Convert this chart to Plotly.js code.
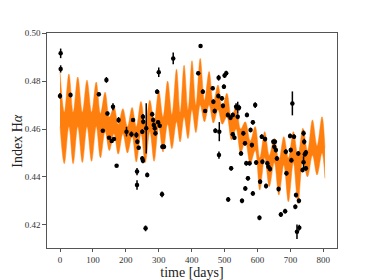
<!DOCTYPE html>
<html><head><meta charset="utf-8">
<script src="https://cdn.plot.ly/plotly-3.0.1.min.js"></script>
<style>html,body{margin:0;padding:0;background:#fff}#chart{width:374px;height:280px}</style>
</head><body><div id="chart"></div>
<script>
// GP band: times of envelope extrema, upper and lower envelope values
const bandT = [0,13,27,40,54,68,82,96,110,123,137,150,164,177,191,205,219,232,246,259,273,286,300,313,327,340,354,365,377,389,401,413,426,439,453,466,480,493,507,521,535,549,563,578,593,607,622,636,651,665,680,694,709,723,738,752,767,781,796,805];
const bandHi = [0.4840,0.4670,0.4830,0.4670,0.4817,0.4670,0.4804,0.4670,0.4796,0.4665,0.4754,0.4650,0.4692,0.4620,0.4685,0.4610,0.4690,0.4610,0.4715,0.4620,0.4720,0.4630,0.4760,0.4650,0.4800,0.4660,0.4850,0.4670,0.4866,0.4680,0.4885,0.4700,0.4895,0.4720,0.4840,0.4710,0.4784,0.4690,0.4749,0.4650,0.4693,0.4600,0.4630,0.4550,0.4610,0.4480,0.4589,0.4490,0.4561,0.4470,0.4568,0.4480,0.4589,0.4490,0.4603,0.4510,0.4638,0.4530,0.4651,0.4520];
const bandLo = [0.4610,0.4455,0.4610,0.4455,0.4610,0.4460,0.4610,0.4465,0.4610,0.4480,0.4590,0.4510,0.4580,0.4495,0.4580,0.4500,0.4570,0.4462,0.4580,0.4460,0.4590,0.4465,0.4610,0.4504,0.4620,0.4518,0.4630,0.4546,0.4650,0.4560,0.4680,0.4585,0.4700,0.4630,0.4700,0.4625,0.4680,0.4620,0.4650,0.4555,0.4600,0.4500,0.4550,0.4455,0.4510,0.4345,0.4480,0.4360,0.4460,0.4324,0.4450,0.4296,0.4460,0.4289,0.4470,0.4400,0.4490,0.4408,0.4500,0.4394];

// observations
const obsT = [0,2,2,32,118,130,141,144,149,157,161,164,172,178,202,217,222,232,235,239,234,234,250,250,252,252,253,260,262,265,280,283,285,288,290,295,298,300,303,310,311,316,344,420,427,434,441,464,466,470,472,481,482,483,484,492,495,498,500,505,510,511,518,520,525,525,530,535,540,540,544,550,553,557,562,563,566,568,571,576,579,583,586,586,593,596,606,608,613,615,623,626,630,633,638,648,651,653,656,659,664,671,684,686,688,699,701,703,706,711,715,717,720,724,726,727,737,740,740,742,744,747,747];
const obsV = [0.4738,0.4851,0.4916,0.4742,0.4745,0.4593,0.4805,0.4665,0.4564,0.4550,0.4693,0.4558,0.4447,0.4638,0.4589,0.4578,0.4638,0.4575,0.4547,0.4522,0.4422,0.4366,0.4589,0.4477,0.4467,0.4651,0.4630,0.4185,0.4603,0.4408,0.4662,0.4638,0.4617,0.4603,0.4582,0.4756,0.4628,0.4837,0.4614,0.4327,0.4526,0.4526,0.4895,0.4833,0.4947,0.4756,0.4675,0.4770,0.4714,0.4675,0.4593,0.4738,0.4814,0.4491,0.4589,0.4728,0.4697,0.4777,0.4823,0.4833,0.4659,0.4306,0.4647,0.4436,0.4659,0.4578,0.4564,0.4693,0.4689,0.4651,0.4689,0.4498,0.4300,0.4582,0.4540,0.4352,0.4457,0.4659,0.4394,0.4457,0.4596,0.4533,0.4628,0.4331,0.4700,0.4460,0.4229,0.4380,0.4568,0.4463,0.4558,0.4362,0.4457,0.4442,0.4433,0.4547,0.4526,0.4547,0.4512,0.4477,0.4349,0.4243,0.4257,0.4505,0.4415,0.4571,0.4512,0.4470,0.4707,0.4568,0.4275,0.4324,0.4171,0.4498,0.4300,0.4188,0.4429,0.4582,0.4461,0.4547,0.4495,0.4502,0.4436];
const obsE = [0.0012,0.0015,0.0020,0.0010,0.0008,0.0006,0.0012,0.0008,0.0006,0.0006,0.0015,0.0008,0.0006,0.0012,0.0020,0.0012,0.0008,0.0012,0.0010,0.0008,0.0015,0.0020,0.0010,0.0010,0.0010,0.0012,0.0010,0.0012,0.0105,0.0010,0.0010,0.0010,0.0010,0.0010,0.0010,0.0010,0.0008,0.0020,0.0008,0.0012,0.0010,0.0010,0.0025,0.0008,0.0008,0.0010,0.0008,0.0008,0.0010,0.0010,0.0010,0.0010,0.0012,0.0015,0.0040,0.0010,0.0010,0.0010,0.0010,0.0010,0.0010,0.0010,0.0010,0.0010,0.0010,0.0010,0.0010,0.0015,0.0025,0.0010,0.0012,0.0010,0.0010,0.0010,0.0010,0.0010,0.0010,0.0010,0.0010,0.0010,0.0010,0.0010,0.0010,0.0010,0.0012,0.0010,0.0010,0.0010,0.0010,0.0010,0.0010,0.0010,0.0010,0.0010,0.0010,0.0010,0.0010,0.0010,0.0010,0.0010,0.0010,0.0010,0.0010,0.0010,0.0010,0.0010,0.0010,0.0010,0.0050,0.0010,0.0010,0.0010,0.0030,0.0010,0.0010,0.0012,0.0010,0.0012,0.0025,0.0012,0.0010,0.0010,0.0010];

const xTicks = [0,100,200,300,400,500,600,700,800];
const yTicks = [0.42,0.44,0.46,0.48,0.50];

const orange = '#ff7f0e';
const serif = 'Liberation Serif, DejaVu Serif, serif';

const traces = [
  {x: bandT, y: bandLo, mode:'lines', line:{color:orange, width:0.5, shape:'spline', smoothing:1}, hoverinfo:'skip', showlegend:false},
  {x: bandT, y: bandHi, mode:'lines', line:{color:orange, width:0.5, shape:'spline', smoothing:1}, fill:'tonexty', fillcolor:orange, hoverinfo:'skip', showlegend:false},
  {x: obsT, y: obsV, mode:'markers', marker:{color:'#000', size:4.5},
   error_y:{type:'data', array: obsE, visible:true, color:'#000', thickness:1.5, width:0},
   error_x:{type:'constant', value:3, visible:true, color:'#000', thickness:1.2, width:0},
   showlegend:false}
];

const layout = {
  width:374, height:280,
  margin:{l:47, r:37, t:33, b:32},
  paper_bgcolor:'#fff', plot_bgcolor:'#fff',
  font:{family:serif, color:'#222'},
  xaxis:{range:[-39.5,841.6], tickvals:xTicks, ticktext:xTicks.map(String),
    showgrid:false, zeroline:false, showline:true, mirror:true, linecolor:'#555', linewidth:1.2,
    ticks:'outside', ticklen:3, tickcolor:'#555', tickwidth:1, tickfont:{size:9, family:serif, color:'#333'},
    title:{text:'time [days]', font:{size:14, family:serif, color:'#222'}, standoff:5}},
  yaxis:{range:[0.4103,0.5001], tickvals:yTicks, ticktext:yTicks.map(v=>v.toFixed(2)),
    showgrid:false, zeroline:false, showline:true, mirror:true, linecolor:'#555', linewidth:1.2,
    ticks:'outside', ticklen:3.5, tickcolor:'#555', tickwidth:1, tickfont:{size:9, family:serif, color:'#333'}},
  annotations:[{text:'Index H<i>α</i>', xref:'paper', yref:'paper', x:-0.103, y:0.5,
    xanchor:'center', yanchor:'middle', textangle:-90, showarrow:false,
    font:{size:14, family:serif, color:'#222'}}]
};

Plotly.newPlot('chart', traces, layout, {displayModeBar:false, staticPlot:true});
</script></body></html>
